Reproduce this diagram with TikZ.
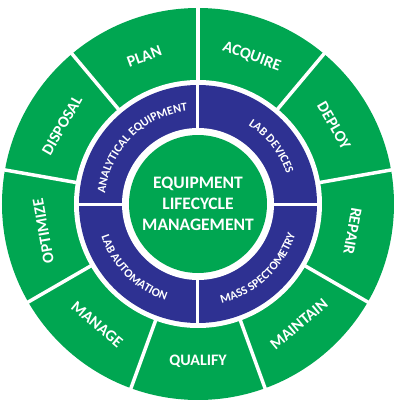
\documentclass[tikz,border=0pt]{standalone}
\usepackage{fontspec}
\setmainfont{Carlito}
\usetikzlibrary{decorations.text}
\definecolor{ringgreen}{RGB}{0,166,81}
\definecolor{ringblue}{RGB}{46,49,146}
\tikzset{stage node/.style={text=white,inner sep=0pt,font=\fontsize{16}{19}\selectfont\bfseries},
  hub node/.style={circle,fill=ringgreen,inner sep=0pt,minimum size=138pt,text=white,align=center,
    font=\fontsize{17.5}{21}\selectfont\bfseries},
  divider/.style={white,line width=3.5pt},
  group label/.style={decorate,decoration={text along path,text align=center,
    text={|\fontsize{12}{14}\selectfont\bfseries\color{white}|#1}}},}

\begin{document}
\begin{tikzpicture}[x=1pt,y=1pt]
          \useasboundingbox (-198,-196) rectangle (202,204);
          \fill[ringgreen] (0,0) circle (196);
          \fill[white] (0,0) circle (124);
          \fill[ringblue] (0,0) circle (119);
          \fill[white] (0,0) circle (76);
          \node[hub node] (hub) at (0,0) {EQUIPMENT\\LIFECYCLE\\MANAGEMENT};

          \foreach \a in {10,50,...,330}
            \draw[divider] (\a:121) -- (\a:200);
          \foreach \a in {0,90,180,270}
            \draw[divider,line width=3pt] (\a:72) -- (\a:122);

          \node[stage node,rotate=20] (plan) at (110:157) {PLAN};
          \node[stage node,rotate=-20] (acquire) at (70:157) {ACQUIRE};
          \node[stage node,rotate=-60] (deploy) at (30:157) {DEPLOY};
          \node[stage node,rotate=-100] (repair) at (-10:157) {REPAIR};
          \node[stage node,rotate=40] (maintain) at (-50:157) {MAINTAIN};
          \node[stage node] (qualify) at (-90:157) {QUALIFY};
          \node[stage node,rotate=-40] (manage) at (230:157) {MANAGE};
          \node[stage node,rotate=100] (optimize) at (190:157) {OPTIMIZE};
          \node[stage node,rotate=60] (disposal) at (150:157) {DISPOSAL};

          \path[group label=ANALYTICAL EQUIPMENT] (180:93.5) arc (180:90:93.5);
          \path[group label=LAB DEVICES] (83:93.5) arc (83:-7:93.5);
          \path[group label=MASS SPECTOMETRY] (268:102) arc (268:358:102);
          \path[group label=LAB AUTOMATION] (180:102) arc (180:270:102);
        \end{tikzpicture}
\end{document}
